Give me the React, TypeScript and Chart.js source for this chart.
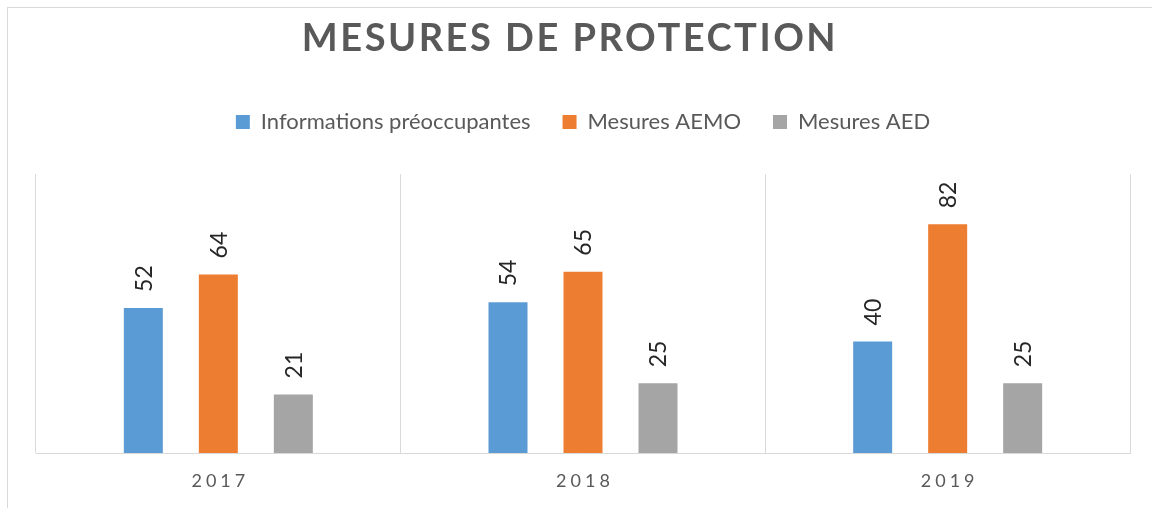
import React, { useEffect, useRef } from "react";
import { Chart, registerables } from "chart.js";

Chart.register(...registerables);

const titleText = "MESURES DE PROTECTION";
const categories = ["2017", "2018", "2019"];
const seriesNames = ["Informations préoccupantes", "Mesures AEMO", "Mesures AED"];
const informations = [52, 54, 40];
const aemo = [64, 65, 82];
const aed = [21, 25, 25];
const seriesColors = ["#5B9BD5", "#ED7D31", "#A5A5A5"];

const FONT = "Lato, 'Open Sans', sans-serif";

const decorPlugin = {
  id: "decor",
  afterInit(chart: any) {
    const lg = chart.legend;
    if (lg && !lg.__patched) {
      const orig = lg.fit;
      lg.fit = function () {
        orig.call(this);
        this.height += 31;
      };
      lg.__patched = true;
    }
  },
  beforeDraw(chart: any) {
    const ctx = chart.ctx;
    ctx.save();
    ctx.fillStyle = "#ffffff";
    ctx.fillRect(0, 0, chart.width, chart.height);
    ctx.strokeStyle = "#d9d9d9";
    ctx.lineWidth = 1;
    ctx.strokeRect(7.5, 7.5, chart.width + 20, chart.height + 20);
    ctx.restore();
  },
  afterDraw(chart: any) {
    const ctx = chart.ctx;
    ctx.save();
    // title
    ctx.font = `bold 38px ${FONT}`;
    (ctx as any).letterSpacing = "2.5px";
    ctx.fillStyle = "#595959";
    ctx.textAlign = "center";
    ctx.textBaseline = "middle";
    ctx.fillText(titleText, 570, 39);
    // x tick labels
    const xs = chart.scales.x;
    ctx.font = `18px ${FONT}`;
    (ctx as any).letterSpacing = "4px";
    categories.forEach((c, i) => {
      ctx.fillText(c, xs.getPixelForValue(i) + 2, 481);
    });
    ctx.restore();
  },
  afterDatasetsDraw(chart: any) {
    const ctx = chart.ctx;
    ctx.save();
    ctx.font = `23px ${FONT}`;
    ctx.fillStyle = "#262626";
    ctx.textAlign = "left";
    ctx.textBaseline = "middle";
    chart.data.datasets.forEach((ds: any, di: number) => {
      const meta = chart.getDatasetMeta(di);
      meta.data.forEach((bar: any, i: number) => {
        ctx.save();
        ctx.translate(bar.x + 1, bar.y - 16);
        ctx.rotate(-Math.PI / 2);
        ctx.fillText(String(ds.data[i]), 0, 0);
        ctx.restore();
      });
    });
    ctx.restore();
  },
};

export default function App() {
  const ref = useRef<HTMLCanvasElement>(null);
  useEffect(() => {
    if (!ref.current) return;
    const chart = new Chart(ref.current, {
      type: "bar",
      data: {
        labels: categories,
        datasets: [informations, aemo, aed].map((d, i) => ({
          label: seriesNames[i],
          data: d,
          backgroundColor: seriesColors[i],
          categoryPercentage: 0.617,
          barPercentage: 0.52,
        })),
      },
      options: {
        animation: false,
        responsive: false,
        maintainAspectRatio: false,
        layout: { padding: { top: 79, left: 36, right: 22, bottom: 55 } },
        plugins: {
          title: { display: false },
          tooltip: { enabled: false },
          legend: {
            display: true,
            position: "top",
            labels: {
              boxWidth: 14,
              boxHeight: 14,
              padding: 32,
              color: "#595959",
              font: { family: FONT, size: 22 },
            },
          },
        },
        scales: {
          x: {
            display: true,
            grid: { display: true, color: "#d9d9d9", drawTicks: false, offset: true },
            border: { display: true, color: "#d9d9d9", width: 1 },
            ticks: { display: false },
          },
          y: { display: false, min: 0, max: 100 },
        },
      },
      plugins: [decorPlugin],
    });
    return () => chart.destroy();
  }, []);
  return (
    <div style={{ position: "fixed", left: 0, top: 0, width: 1152, height: 508 }}>
      <canvas ref={ref} width={1152} height={508} style={{ width: 1152, height: 508 }} />
    </div>
  );
}
